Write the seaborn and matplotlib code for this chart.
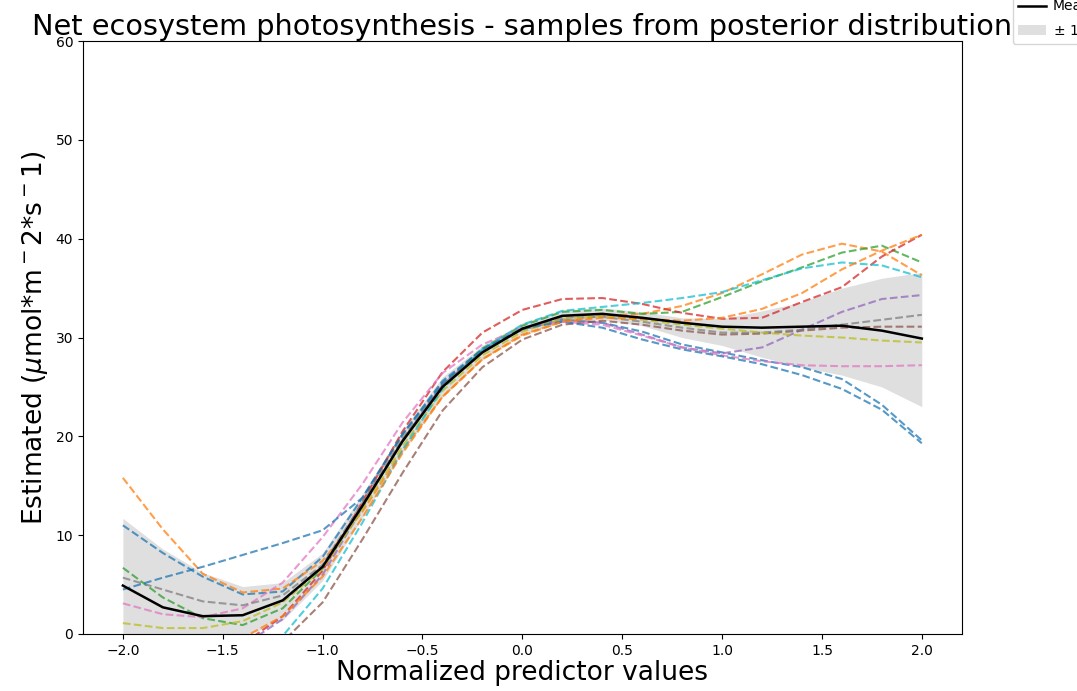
import numpy as np
import pandas as pd
import matplotlib
matplotlib.use("Agg")
import matplotlib.pyplot as plt
import seaborn as sns

# --- dados ---
x = [-2.0, -1.8, -1.6, -1.4, -1.2, -1.0, -0.8, -0.6, -0.4, -0.2, 0.0,
     0.2, 0.4, 0.6, 0.8, 1.0, 1.2, 1.4, 1.6, 1.8, 2.0]

mean = [4.9, 2.7, 1.8, 1.9, 3.4, 6.8, 13.0, 19.5, 25.0, 28.5, 30.9,
        32.2, 32.4, 32.0, 31.5, 31.1, 31.0, 31.1, 31.2, 30.7, 29.9]
band_lo = [-2.0, -1.0, -0.8, -0.3, 1.4, 5.4, 11.8, 18.4, 24.0, 27.8, 30.3,
           31.6, 31.8, 31.2, 30.0, 29.2, 28.0, 27.0, 26.2, 25.0, 23.0]
band_hi = [11.7, 8.6, 6.2, 4.8, 5.2, 8.2, 14.2, 20.6, 26.0, 29.2, 31.5,
           32.8, 33.0, 32.6, 32.0, 31.9, 32.7, 33.6, 35.0, 36.0, 36.6]

# amostras da posterior (uma lista por curva)
blue_a = [11.0, 8.2, 5.8, 4.0, 4.3, 7.8, 13.8, 20.2, 25.6, 28.8, 30.9,
          31.8, 31.5, 30.6, 29.3, 28.5, 27.7, 27.0, 25.8, 23.2, 19.6]
orange_a = [15.8, 10.6, 6.1, 4.2, 4.6, 7.4, 12.4, 18.6, 24.0, 27.8, 30.2,
            31.6, 32.2, 32.4, 33.2, 34.5, 36.4, 38.4, 39.5, 38.7, 36.3]
green = [6.7, 3.7, 1.6, 0.9, 2.6, 6.6, 12.9, 19.6, 25.2, 28.9, 31.2,
         32.6, 32.8, 32.4, 32.6, 34.1, 35.7, 37.1, 38.6, 39.3, 37.6]
red = [-7.0, -5.0, -3.2, -1.0, 1.8, 6.4, 13.4, 20.5, 26.5, 30.5, 32.8,
       33.9, 34.0, 33.4, 32.5, 31.9, 32.0, 33.6, 35.1, 38.2, 40.4]
purple = [-6.0, -4.5, -3.0, -1.2, 1.5, 6.0, 12.8, 19.6, 25.2, 28.7, 30.8,
          31.8, 31.5, 30.3, 29.0, 28.4, 29.0, 30.8, 32.6, 33.9, 34.3]
brown = [-8.0, -6.0, -4.2, -2.5, -0.8, 3.2, 9.6, 16.3, 22.6, 27.0, 29.8,
         31.3, 31.7, 31.3, 30.7, 30.3, 30.4, 30.7, 31.0, 31.1, 31.1]
pink = [3.1, 2.0, 1.7, 2.6, 5.2, 9.8, 15.2, 21.4, 26.4, 29.3, 31.0,
        31.6, 31.3, 30.2, 29.0, 28.2, 27.6, 27.2, 27.1, 27.1, 27.2]
grey = [5.7, 4.5, 3.3, 2.9, 3.9, 7.0, 13.3, 19.8, 25.2, 28.6, 30.8,
        32.0, 32.1, 31.6, 31.0, 30.5, 30.5, 30.8, 31.3, 31.8, 32.3]
olive = [1.1, 0.6, 0.6, 1.3, 3.2, 6.6, 12.6, 19.0, 24.6, 28.2, 30.6,
         31.9, 32.2, 31.8, 31.3, 30.9, 30.5, 30.2, 30.0, 29.7, 29.5]
cyan = [-12.0, -9.0, -6.0, -3.0, -0.2, 4.6, 11.3, 18.6, 24.8, 28.8, 31.3,
        32.7, 33.1, 33.5, 34.0, 34.6, 35.8, 37.0, 37.6, 37.3, 36.1]
blue_b = [4.5, 5.7, 6.8, 8.0, 9.2, 10.5, 13.8, 20.2, 25.4, 28.8, 30.9,
          31.6, 31.0, 29.8, 28.8, 28.1, 27.3, 26.2, 24.8, 22.7, 19.3]
orange_b = [-3.0, -2.6, -1.8, -0.4, 1.8, 5.8, 11.8, 18.3, 24.0, 27.8, 30.3,
            31.6, 32.0, 31.9, 31.7, 32.0, 32.9, 34.5, 36.9, 38.8, 40.4]

samples = [blue_a, orange_a, green, red, purple, brown, pink, grey,
           olive, cyan, blue_b, orange_b]

cores = sns.color_palette("tab10", 10)

fig = plt.figure(figsize=(10.77, 6.91), dpi=100)
ax = fig.add_axes([0.077, 0.0825, 0.816, 0.858])

# faixa de +/- 1 desvio
ax.fill_between(x, band_lo, band_hi, color="grey", alpha=0.25, linewidth=0,
                label="$\\pm$ 1 std")

# amostras tracejadas
for i, s in enumerate(samples):
    sns.lineplot(x=x, y=s, ax=ax, color=cores[i % 10], linestyle="--",
                 linewidth=1.5, alpha=0.75)

# media
sns.lineplot(x=x, y=mean, ax=ax, color="black", linewidth=1.8, label="Mean")

ax.set_xlim(-2.2, 2.2)
ax.set_ylim(0, 60)
ax.set_xticks([-2.0, -1.5, -1.0, -0.5, 0.0, 0.5, 1.0, 1.5, 2.0])
ax.set_title("Net ecosystem photosynthesis - samples from posterior distribution",
             fontsize=20.7, pad=4)
ax.set_xlabel("Normalized predictor values", fontsize=19, labelpad=2)
ax.set_ylabel("Estimated ($\\mu$mol*m$^-2$*s$^-1$)", fontsize=19)

# legenda fora da figura (cortada como no original)
h, l = ax.get_legend_handles_labels()
ax.legend([h[1], h[0]], [l[1], l[0]], loc="upper left",
          bbox_to_anchor=(1.05, 1.0915), fontsize=10, handletextpad=0.5,
          labelspacing=0.7)

fig.savefig("out.png", dpi=100)
